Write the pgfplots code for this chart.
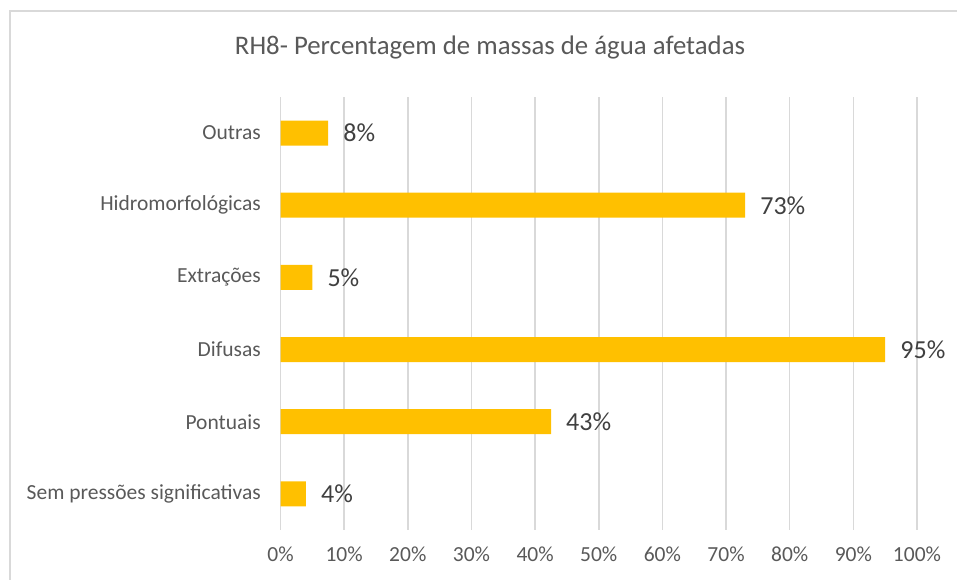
\documentclass[border=0pt]{standalone}
\usepackage{pgfplots}
\pgfplotsset{compat=1.18}
\usepackage{pgfplotstable}
\usepackage{fontspec}
\setmainfont{Carlito}
\definecolor{barc}{HTML}{FFC000}
\definecolor{gridc}{HTML}{D9D9D9}
\definecolor{txt}{HTML}{595959}
\definecolor{lab}{HTML}{404040}
\pgfplotstableread{
y x lab
0 4 4
1 42.5 43
2 95 95
3 5 5
4 73 73
5 7.5 8
}\datatab
\begin{document}
\begin{tikzpicture}[x=1pt,y=1pt]
\useasboundingbox (0,0) rectangle (957,580);
\draw[gridc, line width=1.5pt] (10,0)--(10,569)--(957,569);
\node[txt, font=\fontsize{26.8}{32}\selectfont] at (490,532) {RH8- Percentagem de massas de água afetadas};
\begin{axis}[
  at={(280.5pt,50pt)}, anchor=south west,
  scale only axis, width=636.5pt, height=433pt,
  xbar, bar width=25pt,
  xmin=0, xmax=100, ymin=-0.5, ymax=5.5,
  ytick={0,...,5},
  yticklabels={Sem pressões significativas, Pontuais, Difusas, Extrações, Hidromorfológicas, Outras},
  xtick={0,10,...,100},
  xticklabel={\pgfmathprintnumber{\tick}\%},
  /pgf/number format/assume math mode=true,
  major tick length=0pt,
  axis line style={draw=none},
  xmajorgrids, major grid style={gridc, line width=1.5pt},
  ticklabel style={font=\fontsize{21.5}{25}\selectfont, text=txt, inner sep=0pt},
  yticklabel style={anchor=east, xshift=-19.5pt},
  xticklabel style={anchor=north, yshift=-17pt},
  nodes near coords={\pgfmathprintnumber{\pgfplotspointmeta}\%},
  point meta=explicit,
  nodes near coords style={font=\fontsize{26}{30}\selectfont, text=lab, anchor=west, inner sep=0pt, xshift=15pt},
  clip=false,
]
\addplot[fill=barc, draw=none] table[x=x, y=y, meta=lab] {\datatab};
\end{axis}
\end{tikzpicture}
\end{document}
